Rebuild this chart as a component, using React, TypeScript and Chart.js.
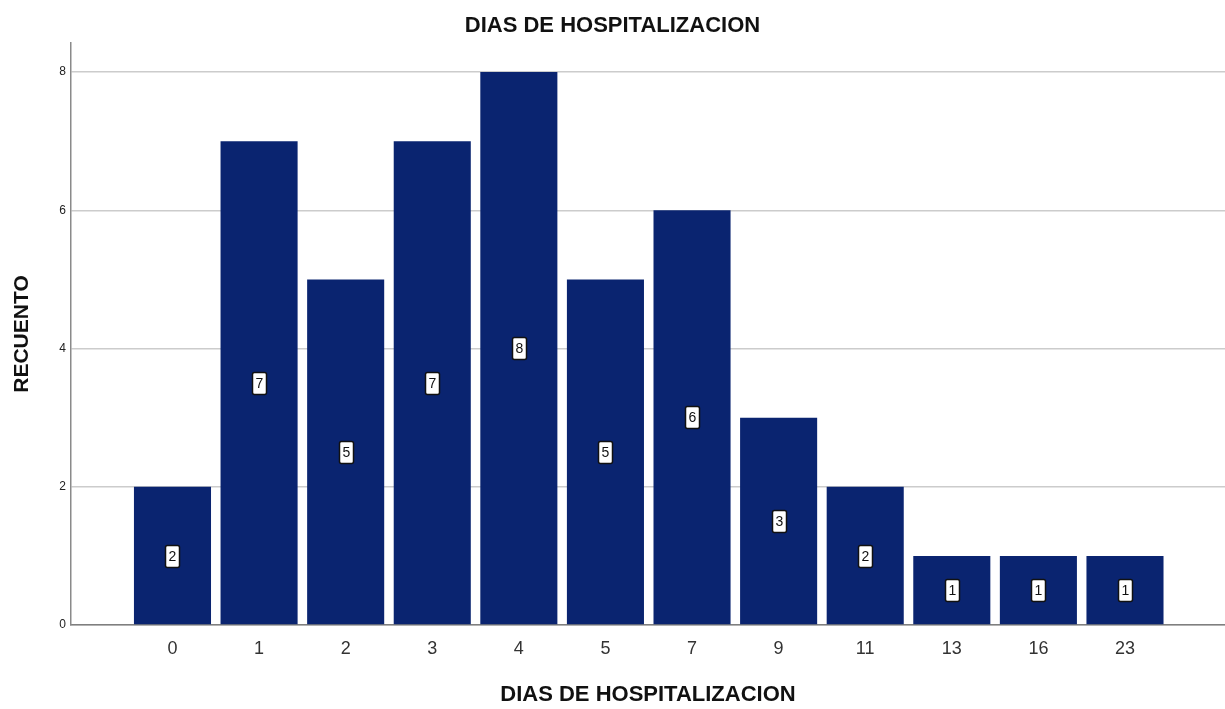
import React, { useEffect, useRef } from "react";
import { Chart, registerables } from "chart.js";

Chart.register(...registerables);

// Días de hospitalización (categorías) y recuento de pacientes
const categories: string[] = ["0", "1", "2", "3", "4", "5", "7", "9", "11", "13", "16", "23"];
const counts: number[] = [2, 7, 5, 7, 8, 5, 6, 3, 2, 1, 1, 1];
const yTicks: number[] = [0, 2, 4, 6, 8];

const BAR_COLOR = "#0a2470";
const FONT = "Arial, 'Liberation Sans', sans-serif";

// Etiqueta blanca con borde en el centro de cada barra
const valueBoxes = {
  id: "valueBoxes",
  afterDatasetsDraw(chart: any) {
    const ctx = chart.ctx;
    const meta = chart.getDatasetMeta(0);
    ctx.save();
    ctx.font = `14px ${FONT}`;
    ctx.textAlign = "center";
    ctx.textBaseline = "middle";
    meta.data.forEach((bar: any, i: number) => {
      const text = String(counts[i]);
      const cx = Math.round(bar.x) + 0.5;
      const cy = Math.round((bar.y + bar.base) / 2) + 0.5;
      const w = Math.max(14, ctx.measureText(text).width + 6);
      const h = 22;
      ctx.beginPath();
      ctx.roundRect(cx - w / 2, cy - h / 2, w, h, 2);
      ctx.fillStyle = "#ffffff";
      ctx.fill();
      ctx.lineWidth = 1.5;
      ctx.strokeStyle = "#111111";
      ctx.stroke();
      ctx.fillStyle = "#111111";
      ctx.fillText(text, cx, cy + 1);
    });
    ctx.restore();
  },
};

export default function App() {
  const ref = useRef<HTMLCanvasElement | null>(null);

  useEffect(() => {
    if (!ref.current) return;
    const chart = new Chart(ref.current, {
      type: "bar",
      data: {
        datasets: [
          {
            data: counts.map((c, i) => ({ x: i, y: c })),
            backgroundColor: BAR_COLOR,
            borderWidth: 0,
            barPercentage: 0.89,
            categoryPercentage: 1,
          },
        ],
      },
      options: {
        animation: false,
        responsive: false,
        maintainAspectRatio: false,
        layout: { padding: 0 },
        plugins: {
          legend: { display: false },
          tooltip: { enabled: false },
          title: {
            display: true,
            text: "DIAS DE HOSPITALIZACION",
            color: "#111111",
            font: { family: FONT, size: 22, weight: "bold", lineHeight: 1.2 },
            padding: { top: 13, bottom: 3.6 },
          },
        },
        scales: {
          x: {
            type: "linear",
            offset: false,
            min: -1.172,
            max: 12.155,
            afterBuildTicks: (scale: any) => {
              scale.ticks = categories.map((_, i) => ({ value: i }));
            },
            afterFit: (scale: any) => {
              scale.height = 84;
            },
            ticks: {
              autoSkip: false,
              maxRotation: 0,
              padding: 13,
              color: "#333333",
              font: { family: FONT, size: 18 },
              callback: (v: any) => categories[v as number] ?? "",
            },
            grid: { display: false, drawTicks: false },
            border: { display: true, color: "#7f7f7f", width: 1.5 },
            title: {
              display: true,
              text: "DIAS DE HOSPITALIZACION",
              color: "#111111",
              font: { family: FONT, size: 22, weight: "bold" },
              padding: { top: 4, bottom: 1 },
            },
          },
          y: {
            min: 0,
            max: 8.42,
            afterBuildTicks: (scale: any) => {
              scale.ticks = yTicks.map((v) => ({ value: v }));
            },
            afterFit: (scale: any) => {
              scale.width = 71;
            },
            ticks: {
              includeBounds: false,
              padding: 5,
              color: "#222222",
              font: { family: FONT, size: 12 },
            },
            grid: { color: "#cccccc", lineWidth: 1.5, drawTicks: false },
            border: { display: true, color: "#8a8a8a", width: 1.5 },
            title: {
              display: true,
              text: "RECUENTO",
              color: "#111111",
              font: { family: FONT, size: 21, weight: "bold" },
              padding: { top: 10, bottom: 2 },
            },
          },
        },
      },
      plugins: [valueBoxes],
    } as any);
    return () => chart.destroy();
  }, []);

  return (
    <div style={{ position: "fixed", left: 0, top: 0, width: 1225, height: 709, background: "#ffffff" }}>
      <canvas ref={ref} width={1225} height={709} style={{ display: "block" }} />
    </div>
  );
}
